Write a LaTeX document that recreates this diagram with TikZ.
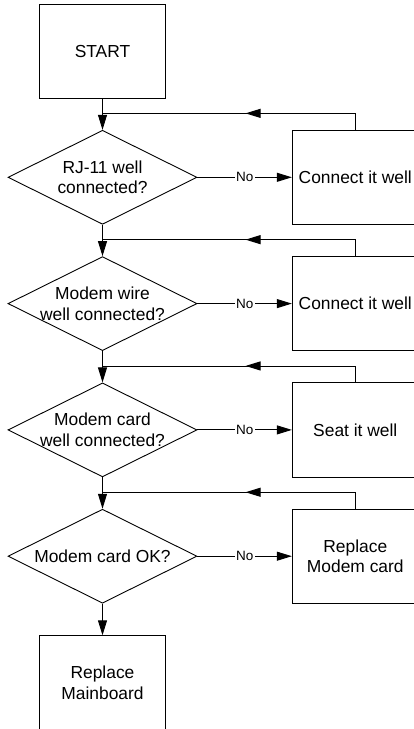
\documentclass[tikz,border=0pt]{standalone}
\usepackage{fontspec}
\setmainfont{Liberation Sans}
\usetikzlibrary{shapes.geometric,arrows.meta,decorations.markings}

\begin{document}
\begin{tikzpicture}[x=1pt,y=-1pt,
  line width=0.9pt,
  box/.style={draw, rectangle, minimum width=126pt, minimum height=94.5pt, inner sep=0pt, font=\fontsize{17.4}{20.5}\selectfont, align=center},
  dia/.style={draw, diamond, minimum width=189pt, minimum height=94pt, inner sep=0pt},
  qtext/.style={font=\fontsize{17.4}{20.5}\selectfont, align=center, inner sep=0pt},
  nolab/.style={fill=white, font=\fontsize{13.5}{15}\selectfont, inner sep=1.5pt},
  tip/.style={Triangle[length=15pt,width=9pt]},
  arr/.style={-{Triangle[length=15pt,width=9pt]}},
  back/.style={postaction={decorate}, decoration={markings, mark=at position #1 with {\arrow{Triangle[length=15pt,width=9pt]}}}}
]
\useasboundingbox (0,0) rectangle (413,729);

\node[box] (start) at (102.5,51.5) {START};

\node[dia] (d1) at (102.5,177.3) {};
\node[qtext] (t1) at (d1) {RJ-11 well\\connected?};
\node[box] (b1) at (355.3,177.3) {Connect it well};

\node[dia] (d2) at (102.5,303.6) {};
\node[qtext] (t2) at (d2) {Modem wire\\well connected?};
\node[box] (b2) at (355.3,303.6) {Connect it well};

\node[dia] (d3) at (102.5,429.9) {};
\node[qtext] (t3) at (d3) {Modem card\\well connected?};
\node[box] (b3) at (355.3,429.9) {Seat it well};

\node[dia] (d4) at (102.5,556.2) {};
\node[qtext] (t4) at (d4) {Modem card OK?};
\node[box] (b4) at (355.3,556.2) {Replace\\Modem card};

\node[box] (mb) at (102.5,683) {Replace\\Mainboard};

\coordinate (m1) at ([yshift=16.5pt]d1.north);
\coordinate (m2) at ([yshift=16.5pt]d2.north);
\coordinate (m3) at ([yshift=16.5pt]d3.north);
\coordinate (m4) at ([yshift=16.5pt]d4.north);

\draw[arr] (start) -- (d1);
\draw[arr] (d1) -- (d2);
\draw[arr] (d2) -- (d3);
\draw[arr] (d3) -- (d4);
\draw[arr] (d4) -- (mb);

\draw[arr] (d1) -- node[nolab] {No} (b1);
\draw[arr] (d2) -- node[nolab] {No} (b2);
\draw[arr] (d3) -- node[nolab] {No} (b3);
\draw[arr] (d4) -- node[nolab] {No} (b4);

\draw[back=126pt] (b1.north) |- (m1);
\draw[back=126pt] (b2.north) |- (m2);
\draw[back=126pt] (b3.north) |- (m3);
\draw[back=126pt] (b4.north) |- (m4);
\end{tikzpicture}
\end{document}
